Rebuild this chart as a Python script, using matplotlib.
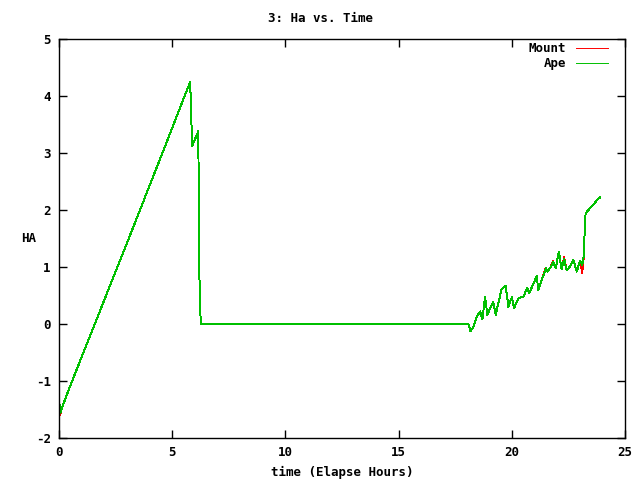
import matplotlib
matplotlib.use("Agg")
import matplotlib.pyplot as plt

# elapsed time (hours) and hour angle samples
time_h = [0.0, 0.05, 0.12, 0.5, 1.0, 1.5, 2.0, 2.5, 3.0, 3.5, 4.0, 4.5, 5.0, 5.5, 5.79,
          5.82, 5.88, 6.15, 6.17, 6.20, 6.26, 18.08,
          18.18, 18.30, 18.45, 18.60, 18.70, 18.82, 18.92, 19.04, 19.18, 19.29,
          19.40, 19.55, 19.73, 19.85, 20.00, 20.10, 20.29, 20.51, 20.68, 20.77,
          21.10, 21.17, 21.51, 21.57, 21.69, 21.83, 21.94, 22.08, 22.20, 22.31,
          22.42, 22.57, 22.72, 22.87, 23.01, 23.11, 23.19, 23.22, 23.26, 23.38,
          23.53, 23.82, 23.90]

ape = [-1.29, -1.57, -1.48, -1.08, -0.58, -0.08, 0.42, 0.92, 1.42, 1.92, 2.43, 2.93, 3.44, 3.95, 4.24,
       3.95, 3.12, 3.38, 2.50, 0.85, 0.0, 0.0,
       -0.13, -0.05, 0.13, 0.22, 0.08, 0.48, 0.16, 0.28, 0.39, 0.16,
       0.36, 0.61, 0.67, 0.30, 0.47, 0.28, 0.45, 0.48, 0.63, 0.54,
       0.84, 0.60, 0.98, 0.92, 0.98, 1.09, 0.98, 1.27, 0.96, 1.15,
       0.94, 1.01, 1.12, 0.92, 1.11, 1.04, 1.21, 1.68, 1.94, 2.00,
       2.06, 2.20, 2.22]

mount = [-1.29, -1.59, -1.48, -1.08, -0.58, -0.08, 0.42, 0.92, 1.42, 1.92, 2.43, 2.93, 3.44, 3.95, 4.24,
         3.95, 3.12, 3.38, 2.50, 0.85, 0.0, 0.0,
         -0.13, -0.05, 0.13, 0.22, 0.08, 0.48, 0.16, 0.28, 0.39, 0.16,
         0.36, 0.61, 0.67, 0.30, 0.47, 0.28, 0.45, 0.48, 0.63, 0.54,
         0.84, 0.60, 0.99, 0.92, 0.98, 1.10, 0.98, 1.27, 0.96, 1.17,
         0.94, 1.01, 1.12, 0.92, 1.11, 0.90, 1.21, 1.68, 1.94, 2.00,
         2.06, 2.20, 2.22]

plt.rcParams['font.family'] = 'DejaVu Sans Mono'
plt.rcParams['font.weight'] = 'bold'
plt.rcParams['axes.unicode_minus'] = False

fig = plt.figure(figsize=(6.4, 4.8), dpi=100)
ax = fig.add_axes([59/640, 1 - 438/480, (625 - 59)/640, (438 - 39)/480])

ax.plot(time_h, mount, color='#ff0000', lw=0.7, label='Mount', antialiased=False)
ax.plot(time_h, ape, color='#00c000', lw=0.7, label='Ape', antialiased=False)

ax.set_xlim(0, 25)
ax.set_ylim(-2, 5)
ax.set_xticks(range(0, 26, 5))
ax.set_yticks(range(-2, 6))
ax.tick_params(direction='in', length=6, width=1, top=True, right=True,
               labelsize=9, pad=6)
for lbl in ax.get_xticklabels() + ax.get_yticklabels():
    lbl.set_fontweight('bold')
for s in ax.spines.values():
    s.set_linewidth(1)

fig.text(0.5, 1 - 18/480, "3: Ha vs. Time", ha='center', va='center',
         fontsize=9, fontweight='bold')
ax.set_xlabel("time (Elapse Hours)", fontsize=9, fontweight='bold', labelpad=5)
ax.set_ylabel("HA", fontsize=9, fontweight='bold', rotation=0, labelpad=5, va='center')

ax.legend(loc='upper right', bbox_to_anchor=(0.975, 0.998), frameon=False,
          markerfirst=False, fontsize=9, handlelength=2.6, borderaxespad=0,
          borderpad=0.2, labelspacing=0.15, handletextpad=0.8)

plt.savefig("out.png", dpi=100)
